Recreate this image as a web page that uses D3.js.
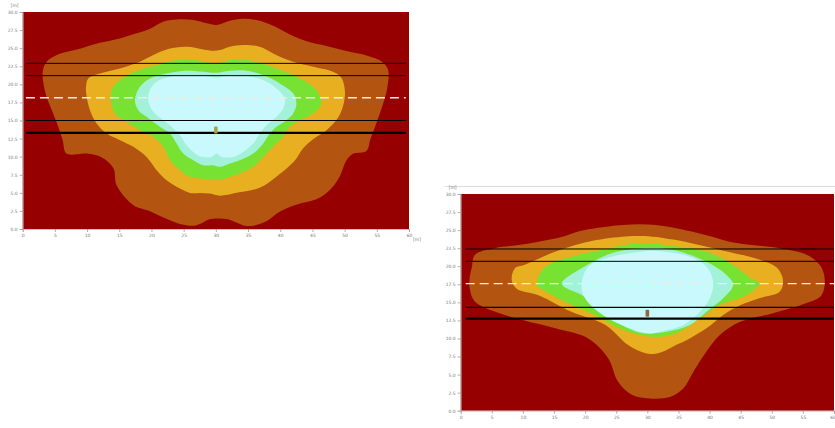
<!DOCTYPE html>
<html><head><meta charset="utf-8">
<script src="https://cdn.jsdelivr.net/npm/d3@7"></script>
<style>html,body{margin:0;padding:0;background:#fff;}svg{display:block;}</style>
</head><body>
<svg id="c" width="835" height="428"></svg>
<script>
// ---------- data ----------
const xTicks = [0,5,10,15,20,25,30,35,40,45,50,55,60];
const yTicks = [0,2.5,5,7.5,10,12.5,15,17.5,20,22.5,25,27.5,30];
const yTickLabels = ["0.0","2.5","5.0","7.5","10.0","12.5","15.0","17.5","20.0","22.5","25.0","27.5","30.0"];
const unitLabel = "[m]";
const levelNames = ["band1","band2","band3","band4","band5"];

// chart A contour outlines (x [m], y [m])
const a_band1 = [[3.1,21.7],[3.7,23.1],[5.3,24.05],[8.4,24.8],[12,25.75],[15.1,26.35],[17.7,27.05],[19.8,27.7],[21.8,28.66],[23.9,28.98],[26.5,28.89],[28.6,28.43],[30.1,28.2],[31.7,28.66],[33.7,29.03],[36.3,28.89],[38.9,28.1],[41.5,26.9],[44,26.0],[47.2,25.3],[50.8,24.5],[53.4,24.0],[55.7,23.2],[56.75,22.0],[56.6,19.4],[56,17.4],[55,14.8],[54,12.4],[53.4,10.8],[51.3,10.4],[50.3,9.5],[49.2,7.2],[47.7,5.4],[45.6,4.1],[42.6,3.4],[39.9,2.4],[37.9,1.1],[35.8,0.45],[34.3,0.5],[33.2,0.9],[31.9,1.35],[30.4,1.45],[28.9,1.3],[27.8,0.8],[26.5,0.45],[24.6,0.65],[22.3,1.4],[19.7,2.5],[17.2,3.3],[14.6,6.0],[14.1,8.4],[12.3,9.9],[9.9,10.43],[6.8,10.43],[6.2,12.3],[5.5,14.2],[4.5,16.5],[3.6,18.6]];
const a_band2 = [[9.83,19.66],[10.19,20.82],[12,21.51],[15.11,22.2],[18.21,23.12],[20.28,24.05],[22.35,24.83],[25.45,25.2],[28.04,24.83],[29.59,24.65],[30.63,24.74],[32.18,25.2],[34.25,25.43],[36.83,25.2],[38.9,24.28],[42.01,23.12],[45.11,22.43],[48.21,21.74],[49.5,20.9],[50.03,19.2],[49.9,17.5],[49.0,15.4],[47.18,13.66],[45.1,12.4],[43.5,11.1],[42.3,9.5],[39.5,7.3],[36.8,5.7],[33.2,5.0],[30.63,4.6],[29.07,4.9],[27.52,4.99],[25.97,4.99],[24.42,5.59],[22.35,6.74],[20.8,8.13],[19.24,9.97],[17.18,11.36],[15.11,12.28],[13.04,13.2],[11.48,14.59],[10.45,16.43],[9.93,18.28]];
const a_band3 = [[13.71,17.82],[13.81,19.2],[15.11,20.59],[18.21,21.97],[20.8,22.66],[23.9,23.35],[26.49,23.45],[28.04,23.12],[30.11,22.89],[32.18,23.35],[34.25,23.45],[36.83,22.99],[39.42,22.2],[42.52,21.05],[45.11,19.66],[46.4,17.82],[46.15,16.89],[45.11,15.97],[43.04,15.05],[41.49,14.13],[40.46,12.74],[38.9,11.36],[37.35,9.97],[35.8,8.59],[33.73,7.66],[32.18,7.2],[30.11,6.74],[28.04,6.97],[25.97,7.2],[24.42,8.13],[22.87,9.51],[21.83,11.36],[20.28,12.74],[18.21,13.66],[16.14,14.82],[14.33,15.97]];
const a_band4 = [[17.43,17.82],[18.21,19.66],[19.76,20.82],[22.35,21.51],[25.45,21.88],[28.04,21.74],[30.11,21.6],[32.18,21.88],[34.76,21.88],[37.35,21.28],[39.94,20.12],[42.01,18.74],[42.52,17.36],[42.01,15.97],[40.97,15.05],[39.42,14.13],[38.39,13.2],[37.35,11.82],[35.8,10.43],[33.73,9.51],[32.18,9.05],[30.63,8.59],[29.59,8.82],[28.04,8.82],[26.49,9.51],[24.94,10.43],[23.9,11.82],[22.87,13.2],[21.31,14.13],[19.24,15.51],[17.95,16.43]];
const a_band5 = [[19.5,17.82],[19.76,19.2],[20.8,20.36],[22.87,21.05],[25.45,21.28],[28.04,21.14],[30.11,20.96],[32.18,21.23],[34.76,21.14],[37.35,20.59],[39.42,19.43],[40.71,18.05],[40.46,16.66],[39.42,15.51],[37.87,14.36],[36.83,13.2],[35.8,11.82],[34.25,10.66],[32.7,9.97],[30.88,9.97],[30.11,10.43],[29.33,9.97],[27.52,10.06],[26.49,10.66],[25.45,11.59],[24.42,12.97],[23.12,14.13],[21.83,15.05],[20.28,16.2]];
const a_lineLevels = [22.9, 21.2, 18.15, 15.0, 13.3];
const a_lineExtent = [0.5, 59.5];
const a_source = [30, 13.7];

// chart B contour outlines
const b_band1 = [[1.4,18.1],[1.8,19.9],[2.3,21.6],[5.5,22.5],[9,22.9],[12.5,23.4],[16.5,24.1],[18.9,24.8],[23.7,25.5],[28.8,25.8],[33.1,25.5],[39.5,24.3],[44.3,23.2],[51.3,22.5],[55.6,21.6],[57.7,20.2],[58.5,18.3],[58,16],[55.6,14.9],[50.2,13.5],[44.9,12.3],[41.7,10.5],[39.5,8.2],[37.4,5.4],[35.8,3.1],[33.6,1.9],[30.4,1.7],[27.5,2.2],[25.3,4],[23.7,7.25],[20.5,10],[15.2,11.4],[7.1,13.25],[2.3,15.1],[1.5,16.7]];
const b_band2 = [[8.2,18.1],[8.7,19.7],[10.3,20.2],[15.15,22],[21.6,23.6],[28.8,24.2],[34.15,23.7],[42.2,22.15],[48.1,20.9],[50.75,19.85],[51.8,18.1],[51.3,16.5],[48.1,15.6],[44.9,14.6],[42.2,13.25],[39.5,11.4],[36.8,10],[34.15,8.9],[32.55,8.2],[30.9,7.85],[29.6,8.0],[26.9,9.1],[23.2,11.9],[17.8,13.7],[12.5,16],[9,16.9]];
const b_band3 = [[12.21,17.4],[13.54,19.85],[17.83,21.32],[22.64,22.25],[28.8,23.22],[34.15,22.8],[39.51,22.02],[43.79,20.17],[46.47,18.42],[47.97,17.63],[45.93,16.02],[41.65,14.63],[38.44,12.79],[35.22,10.94],[32.01,10.25],[29.6,10.34],[25.86,11.26],[21.57,13.25],[16.76,15.09],[13.28,16.71]];
const b_band4 = [[16.22,17.63],[19.43,19.71],[24.25,21.79],[29.87,22.48],[34.15,22.25],[39.51,20.63],[42.72,18.79],[43.79,17.4],[42.18,15.56],[39.51,13.71],[36.83,11.86],[33.08,10.94],[29.34,10.71],[26.93,11.4],[23.18,13.71],[19.43,16.02],[17.02,16.94]];
const b_band5 = [[19.43,17.4],[20.5,19.94],[24.25,21.32],[29.07,22.02],[31.48,22.11],[36.83,21.32],[39.51,19.94],[40.58,17.86],[40.04,15.56],[38.44,13.71],[35.76,11.86],[32.01,10.94],[30.14,10.71],[25.86,11.86],[22.11,13.71],[19.97,15.56]];
const b_lineLevels = [22.39, 20.68, 17.59, 14.31, 12.74];
const b_lineExtent = [0.8, 60];
const b_source = [30, 13.5];

// ---------- styling ----------
const bandColors = ["#b35410","#e8b020","#78e232","#a3f1d8","#c9f9fc"];
const bgColor = "#970000";
const lineStyles = [
  {stroke:"#000", w:1, dash:null},
  {stroke:"#000", w:1, dash:null},
  {stroke:"#f3ebe3", w:1.4, dash:"9,5"},
  {stroke:"#000", w:1.2, dash:null},
  {stroke:"#000", w:2.2, dash:null}
];

const svg = d3.select("#c");

function drawChart(cfg){
  const x = d3.scaleLinear().domain([0,60]).range([cfg.left, cfg.left+cfg.width]);
  const y = d3.scaleLinear().domain([0,30]).range([cfg.top+cfg.height, cfg.top]);
  const g = svg.append("g");
  const clipId = "clip"+cfg.id;
  g.append("clipPath").attr("id",clipId).append("rect")
    .attr("x",x(0)).attr("y",y(30)).attr("width",x(60)-x(0)).attr("height",y(0)-y(30));
  g.append("rect").attr("x",x(0)).attr("y",y(30)).attr("width",x(60)-x(0)).attr("height",y(0)-y(30))
    .attr("fill",bgColor);
  const area = g.append("g").attr("clip-path","url(#"+clipId+")");
  const line = d3.line().x(d=>x(d[0])).y(d=>y(d[1])).curve(d3.curveCatmullRomClosed.alpha(0.5));
  cfg.bands.forEach((b,i)=>{
    area.append("path").attr("class",levelNames[i]).attr("d",line(b)).attr("fill",bandColors[i]);
  });
  cfg.lines.forEach((v,i)=>{
    const s = lineStyles[i];
    area.append("line").attr("x1",x(cfg.extent[0])).attr("x2",x(cfg.extent[1]))
      .attr("y1",y(v)).attr("y2",y(v)).attr("stroke",s.stroke).attr("stroke-width",s.w)
      .attr("stroke-dasharray",s.dash);
  });
  // source marker
  area.append("rect").attr("x",x(cfg.source[0])-1.8).attr("y",y(cfg.source[1])-3.5)
    .attr("width",3.6).attr("height",7).attr("rx",1).attr("fill",cfg.markerColor);
  // axes
  const ya = d3.axisLeft(y).tickValues(yTicks).tickFormat((d,i)=>yTickLabels[i]).tickSize(3).tickPadding(2);
  const xa = d3.axisBottom(x).tickValues(xTicks).tickFormat(d=>d).tickSize(3).tickPadding(2);
  const gy = g.append("g").attr("transform","translate("+x(0)+",0)").call(ya);
  const gx = g.append("g").attr("transform","translate(0,"+y(0)+")").call(xa);
  [gy,gx].forEach(a=>{
    a.selectAll("path").attr("stroke","#b9b9b9").attr("stroke-width",0.8);
    a.selectAll("line").attr("stroke","#9a9a9a").attr("stroke-width",0.8);
    a.selectAll("text").attr("font-family","DejaVu Sans, sans-serif").attr("font-size",4.5).attr("fill","#777");
  });
  if(cfg.lastTickEnd){
    gx.selectAll(".tick").filter(d=>d===60).select("text").attr("text-anchor","end").attr("dx","1.5");
  }
  g.append("text").attr("x",x(0)-8).attr("y",y(30)-5).attr("font-family","DejaVu Sans, sans-serif")
    .attr("font-size",4.5).attr("fill","#777").attr("text-anchor","middle").text(unitLabel);
  if(cfg.xUnit){
    g.append("text").attr("x",x(60)+4).attr("y",y(0)+12).attr("font-family","DejaVu Sans, sans-serif")
      .attr("font-size",4.5).attr("fill","#777").attr("text-anchor","start").text(unitLabel);
  }
}

drawChart({id:"A", left:22.7, top:12, width:386.3, height:217,
  bands:[a_band1,a_band2,a_band3,a_band4,a_band5], lines:a_lineLevels, extent:a_lineExtent,
  source:a_source, markerColor:"#a7a24a", xUnit:true, lastTickEnd:false});
// frame line over chart B
svg.append("line").attr("x1",445).attr("x2",835).attr("y1",186.5).attr("y2",186.5)
  .attr("stroke","#e3d9d9").attr("stroke-width",1);
drawChart({id:"B", left:460.7, top:194, width:373.3, height:216.7,
  bands:[b_band1,b_band2,b_band3,b_band4,b_band5], lines:b_lineLevels, extent:b_lineExtent,
  source:b_source, markerColor:"#8a6a3c", xUnit:false, lastTickEnd:true});
</script>
</body></html>
